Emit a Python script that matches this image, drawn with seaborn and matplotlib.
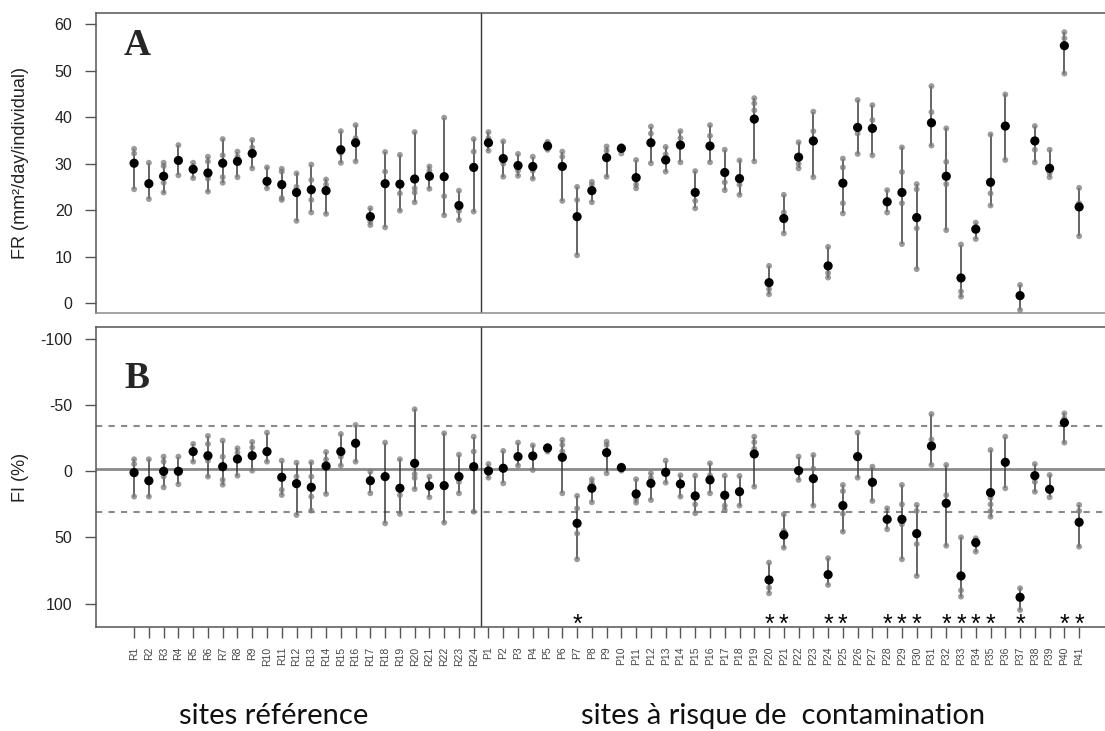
import numpy as np
import pandas as pd
import matplotlib
matplotlib.use("Agg")
import matplotlib.pyplot as plt
import seaborn as sns

# ---------------- data ----------------
ref_sites = [f"R{i}" for i in range(1, 25)]
risk_sites = [f"P{i}" for i in range(1, 42)]
sites = ref_sites + risk_sites

fr_mean = [30.1, 25.7, 27.3, 30.7, 28.8, 28.0, 30.1, 30.5, 32.2, 26.2, 25.5, 23.8,
           24.4, 24.2, 33.0, 34.5, 18.6, 25.7, 25.6, 26.7, 27.3, 27.2, 21.0, 29.2,
           34.5, 31.1, 29.6, 29.4, 33.8, 29.4, 18.6, 24.2, 31.3, 33.3,
           27.0, 34.5, 30.8, 34.0, 23.8, 33.8, 28.1, 26.8, 39.6, 4.4,
           18.2, 31.4, 34.9, 8.0, 25.8, 37.8, 37.6, 21.8, 23.8, 18.4,
           38.8, 27.3, 5.4, 15.9, 26.0, 38.1, 1.6, 34.9, 29.0, 55.4, 20.7]

fr_points = [
    [33.2, 32.2, 30.1, 24.5], [30.2, 25.7, 22.4], [30.2, 29.5, 25.9, 23.8], [34.0, 30.7, 27.5],
    [30.2, 28.8, 26.9], [31.5, 30.5, 26.8, 24.0], [35.3, 31.8, 27.1, 25.9], [32.6, 31.5, 27.1],
    [35.1, 33.5, 29.0], [29.2, 26.2, 24.7], [28.9, 28.3, 22.6, 22.2], [27.9, 25.0, 17.7],
    [29.8, 26.5, 22.2, 19.5], [26.6, 25.5, 19.2], [37.0, 32.3, 30.2], [38.3, 35.5, 30.5],
    [20.4, 17.5, 16.8], [32.5, 28.3, 16.3], [31.9, 23.6, 19.9], [36.8, 24.7, 23.8, 21.7],
    [29.4, 28.5, 24.6], [39.9, 23.0, 18.9], [24.2, 19.8, 17.9], [35.3, 32.6, 19.7],
    [36.8, 35.5, 32.8], [34.8, 30.0, 27.2], [32.1, 28.5, 27.4], [31.5, 28.5, 26.8],
    [34.7, 33.0], [32.6, 31.5, 22.0], [25.0, 22.2, 10.3], [26.1, 25.5, 21.7],
    [33.7, 32.8, 27.2], [33.8, 32.2], [30.8, 25.5, 24.7], [38.0, 36.5, 30.1],
    [33.6, 32.0, 28.3], [37.0, 35.5, 30.3], [28.4, 22.0, 20.4], [38.3, 36.0, 30.3],
    [33.0, 26.0, 24.3], [30.7, 25.5, 23.3], [44.1, 43.0, 41.5, 30.5], [8.0, 3.0, 1.9],
    [23.3, 19.5, 15.0], [34.6, 30.0, 29.0], [41.2, 37.0, 27.1], [12.1, 6.5, 5.5],
    [31.1, 29.2, 21.5, 19.3], [43.7, 36.5, 32.1], [42.6, 39.4, 31.8], [24.3, 19.5],
    [33.5, 28.2, 21.5, 12.7], [25.6, 24.5, 16.1, 7.3], [46.7, 41.1, 33.9], [37.6, 30.4, 25.6, 15.7],
    [12.6, 2.5, 1.4], [17.3, 13.8], [36.3, 23.6, 21.0], [44.9, 30.8],
    [3.9, -1.5], [38.1, 33.0, 30.3], [33.0, 28.0, 27.1], [58.3, 57.0, 49.4], [24.8, 21.5, 14.4],
]

fi_mean = [1.0, 7.1, 0.0, 0.0, -14.9, -11.8, -3.5, -9.3, -11.8, -14.9, 4.5, 9.3,
           12.1, -4.0, -14.9, -21.2, 7.1, 4.0, 12.8, -6.0, 11.1, 10.8, 4.0, -3.5,
           -0.3, -2.3, -11.1, -11.6, -17.6, -10.6, 39.3, 12.8, -14.1, -2.8,
           17.1, 9.1, 0.8, 9.6, 18.6, 6.5, 18.1, 15.4, -13.1, 82.1,
           48.1, -0.5, 5.5, 78.1, 25.9, -11.1, 8.3, 36.3, 36.3, 47.1,
           -19.1, 24.2, 79.1, 53.9, 16.1, -6.8, 95.2, 3.3, 13.6, -36.8, 38.5]

fi_points = [
    [-9.1, -5.5, 19.1], [-9.1, 19.1], [-11.1, -7.3, 4.0, 12.1], [-11.1, 9.8],
    [-20.7, -7.3], [-26.7, -20.7, -8.0, 4.0], [-23.2, -11.0, 6.5, 10.1], [-17.4, -14.0, 3.3],
    [-22.2, -18.0, -0.5], [-29.2, -7.3], [-8.1, 14.0, 17.9], [-6.5, 4.0, 33.0],
    [-6.8, 4.0, 19.1, 29.7], [-14.6, -9.0, 17.1], [-28.2, -11.0, -4.3], [-35.0, -7.3],
    [0.3, 16.6], [-21.7, 39.3], [-9.1, 18.0, 32.2], [-46.9, 2.0, 5.0, 13.4],
    [4.0, 19.6], [-28.7, 38.8], [-12.6, 8.0, 16.6], [-26.2, -15.0, 30.5],
    [-5.5, 4.8], [-15.4, 9.1], [-21.7, -4.3], [-19.6, -1.0],
    [-19.1, -14.9], [-23.7, -20.0, -15.0, 16.6], [18.6, 28.0, 47.0, 66.5], [6.0, 9.0, 23.4],
    [-22.4, -20.0, 1.5], [-4.3, -0.5], [6.0, 21.0, 23.7], [1.5, 5.0, 21.7],
    [-8.1, 8.6], [3.0, 19.1], [3.3, 25.0, 31.7], [-6.0, 3.0, 16.6],
    [3.3, 26.0, 29.2], [3.5, 25.9], [-26.2, -22.0, -17.0, 11.6], [69.0, 88.0, 92.2],
    [32.5, 45.0, 57.7], [-11.1, 6.5], [-12.3, -2.0, 25.9], [65.7, 85.9],
    [10.3, 15.0, 32.0, 45.6], [-29.2, 4.8], [-3.5, 22.4], [28.0, 43.8],
    [10.3, 25.0, 40.0, 66.5], [25.4, 30.0, 55.0, 79.1], [-43.3, -24.0, -4.8], [-4.8, 18.0, 56.2],
    [49.9, 90.0, 94.7], [50.6, 60.7], [-16.1, 20.0, 25.0, 30.0, 34.3], [-26.2, 12.8],
    [88.4, 104.8], [-5.5, 8.0, 15.4], [2.8, 19.6], [-43.8, -40.0, -21.7], [25.4, 30.0, 56.9],
]

signif_sites = ["P7", "P20", "P21", "P24", "P25", "P28", "P29", "P30", "P32",
                "P33", "P34", "P35", "P37", "P40", "P41"]

fi_ref_line = -2.0
fi_bounds = [-34.3, 31.0]

# ---------------- figure ----------------
sns.set_theme(style="white")
plt.rcParams["font.family"] = ["Liberation Sans", "DejaVu Sans"]
plt.rcParams["axes.unicode_minus"] = False

fig = plt.figure(figsize=(11.05, 7.31), dpi=100)
axA = fig.add_axes([96 / 1105, 1 - 313.3 / 731, 1 - 96 / 1105 + 0.01, 300.6 / 731])
axB = fig.add_axes([96 / 1105, 1 - 627.3 / 731, 1 - 96 / 1105 + 0.01, 300.6 / 731])

pos = {s: i for i, s in enumerate(sites)}


def draw(ax, means, points):
    long = pd.DataFrame([(s, v) for s, pts in zip(sites, points) for v in pts],
                        columns=["site", "value"])
    long["x"] = long["site"].map(pos)
    rng = long.groupby("x")["value"].agg(["min", "max"]).reset_index()
    ax.vlines(rng["x"], rng["min"], rng["max"], color="#3a3a3a", lw=1.1, zorder=2)
    sns.scatterplot(data=long, x="x", y="value", ax=ax, color="#7a7a7a", alpha=0.75,
                    s=18, edgecolor="none", zorder=3, legend=False)
    mdf = pd.DataFrame({"x": [pos[s] for s in sites], "value": means})
    sns.scatterplot(data=mdf, x="x", y="value", ax=ax, color="black", s=44,
                    edgecolor="none", zorder=4, legend=False)
    ax.axvline(23.5, color="#333333", lw=1, zorder=1)
    ax.set_xlim(-2.58, 66.5)
    for sp in ["top", "left", "bottom"]:
        ax.spines[sp].set_color("#555555")
        ax.spines[sp].set_linewidth(1.1)
    ax.spines["right"].set_visible(False)
    ax.set_xlabel("")
    ax.tick_params(axis="y", which="both", left=True, length=8, width=1, color="#555555",
                   labelsize=11.5, labelcolor="#222222", pad=9)


draw(axA, fr_mean, fr_points)
axA.spines["bottom"].set_color("#8a8a8a")
axA.set_ylim(-2.2, 62.5)
axA.set_yticks([0, 10, 20, 30, 40, 50, 60])
axA.set_xticks([])
axA.set_ylabel("FR (mm²/day/individual)", fontsize=13, color="#222222")
axA.yaxis.set_label_coords(-0.066, 0.5)
axA.text(-2.58 + 1.9, 55.4, "A", fontsize=27, fontweight="bold",
         family=["Liberation Serif", "DejaVu Serif"], va="center", ha="left")

axB.axhline(fi_ref_line, color="#8a8a8a", lw=2, zorder=1)
for b in fi_bounds:
    axB.axhline(b, color="#8a8a8a", lw=1.5, ls=(0, (3, 3)), zorder=1)
draw(axB, fi_mean, fi_points)
axB.set_ylim(117.9, -109.3)
axB.set_yticks([-100, -50, 0, 50, 100])
axB.set_xticks(range(len(sites)))
axB.set_xticklabels(sites, rotation=90, fontsize=7.5, color="#444444")
axB.tick_params(axis="x", bottom=True, length=8, width=1, color="#555555", pad=6)
axB.set_ylabel("FI (%)", fontsize=13, color="#222222")
axB.yaxis.set_label_coords(-0.066, 0.5)
axB.text(-2.58 + 1.9, -70, "B", fontsize=27, fontweight="bold",
         family=["Liberation Serif", "DejaVu Serif"], va="center", ha="left")
for s in signif_sites:
    axB.text(pos[s], 116, "*", fontsize=18, ha="center", va="center", color="black")

fig.text(274 / 1105, 1 - 716 / 731, "sites référence", fontsize=21, ha="center",
         va="center", family=["Lato", "DejaVu Sans"], color="#111111")
fig.text(783 / 1105, 1 - 716 / 731, "sites à risque de  contamination", fontsize=21,
         ha="center", va="center", family=["Lato", "DejaVu Sans"], color="#111111")

fig.savefig("out.png", dpi=100)
